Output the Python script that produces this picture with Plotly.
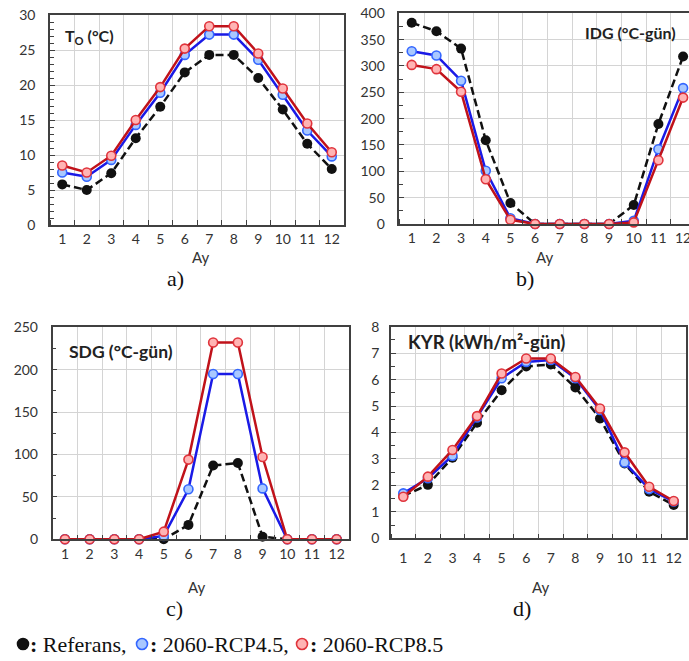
import plotly.graph_objects as go

W, H = 689, 661

months = list(range(1, 13))
month_labels = [str(m) for m in months]

# a) Outdoor temperature T_O (°C)
to_ref = [5.8, 5.0, 7.4, 12.4, 16.9, 21.8, 24.3, 24.3, 21.0, 16.5, 11.6, 8.0]
to_rcp45 = [7.5, 6.9, 9.3, 14.3, 18.9, 24.3, 27.2, 27.2, 23.6, 18.6, 13.5, 9.8]
to_rcp85 = [8.5, 7.5, 9.9, 15.0, 19.7, 25.2, 28.4, 28.4, 24.5, 19.5, 14.5, 10.4]

# b) Heating degree-days IDG (°C-gün)
idg_ref = [382, 366, 333, 159, 40, 0, 0, 0, 0, 36, 190, 318]
idg_rcp45 = [328, 320, 272, 101, 11, 0, 0, 0, 0, 6, 142, 258]
idg_rcp85 = [302, 294, 251, 85, 8, 0, 0, 0, 0, 3, 121, 240]

# c) Cooling degree-days SDG (°C-gün)
sdg_ref = [0, 0, 0, 0, 0, 17, 87, 90, 3, 0, 0, 0]
sdg_rcp45 = [0, 0, 0, 0, 4, 59, 195, 195, 60, 0, 0, 0]
sdg_rcp85 = [0, 0, 0, 0, 9, 94, 232, 232, 97, 0, 0, 0]

# d) Solar radiation KYR (kWh/m²-gün)
kyr_ref = [1.6, 2.02, 3.05, 4.37, 5.6, 6.5, 6.57, 5.7, 4.53, 2.83, 1.76, 1.26]
kyr_rcp45 = [1.7, 2.27, 3.12, 4.57, 6.05, 6.67, 6.74, 6.05, 4.85, 2.87, 1.86, 1.39]
kyr_rcp85 = [1.57, 2.33, 3.34, 4.62, 6.23, 6.8, 6.8, 6.1, 4.91, 3.25, 1.95, 1.41]

panels = [
    dict(ref=to_ref, r45=to_rcp45, r85=to_rcp85, yr=[0, 30], dt=5, mdt=1),
    dict(ref=idg_ref, r45=idg_rcp45, r85=idg_rcp85, yr=[0, 400], dt=50, mdt=25),
    dict(ref=sdg_ref, r45=sdg_rcp45, r85=sdg_rcp85, yr=[0, 250], dt=50, mdt=25),
    dict(ref=kyr_ref, r45=kyr_rcp45, r85=kyr_rcp85, yr=[0, 8], dt=1, mdt=0.5),
]

# plot-area boxes in pixels: left, right, top, bottom, x range end, label standoffs
boxes = [
    dict(l=50, r=344, t=15, b=225, xend=12.5, xs=0, ys=10),
    dict(l=399.4, r=689, t=13.3, b=224, xend=12.24, xs=0, ys=10),
    dict(l=52.6, r=349, t=327.3, b=539.3, xend=12.5, xs=1, ys=10),
    dict(l=391, r=686, t=326.7, b=538.3, xend=12.5, xs=6, ys=7),
]

BLACK = "#111111"
BLUE_LINE = "#1a1ae6"
BLUE_EDGE = "#3366ff"
BLUE_FILL = "#a9c8ff"
RED_LINE = "#c0121a"
RED_EDGE = "#e0343c"
RED_FILL = "#ffb4b4"
FRAME = "#404040"
GRID = "#d4d4d4"
TICKFONT = dict(family="Lato, Calibri, sans-serif", size=14, color="#333333")

fig = go.Figure()


def px_x(v):
    return v / W


def px_y(v):
    return 1 - v / H


for i, (p, bx) in enumerate(zip(panels, boxes)):
    n = "" if i == 0 else str(i + 1)
    xa, ya = "x" + n, "y" + n
    fig.add_trace(go.Scatter(
        x=months, y=p["ref"], xaxis=xa, yaxis=ya, mode="lines+markers",
        line=dict(color=BLACK, width=2.5, dash="8px,4px"),
        marker=dict(size=10, color=BLACK), showlegend=False, cliponaxis=False))
    fig.add_trace(go.Scatter(
        x=months, y=p["r45"], xaxis=xa, yaxis=ya, mode="lines+markers",
        line=dict(color=BLUE_LINE, width=2.5),
        marker=dict(size=9, color=BLUE_FILL, line=dict(color=BLUE_EDGE, width=1.6)),
        showlegend=False, cliponaxis=False))
    fig.add_trace(go.Scatter(
        x=months, y=p["r85"], xaxis=xa, yaxis=ya, mode="lines+markers",
        line=dict(color=RED_LINE, width=2.5),
        marker=dict(size=9, color=RED_FILL, line=dict(color=RED_EDGE, width=1.6)),
        showlegend=False, cliponaxis=False))

    fig.layout["xaxis" + n] = dict(
        domain=[px_x(bx["l"]), px_x(bx["r"])], range=[0.5, bx["xend"]],
        anchor=ya, tickvals=months, ticktext=month_labels, ticks="",
        showgrid=False, zeroline=False, showline=True, linecolor=FRAME,
        linewidth=1.6, mirror=True, tickfont=TICKFONT, automargin=False,
        ticklabelstandoff=bx["xs"], ticklabeloverflow="allow",
        minor=dict(tickvals=[m + 0.5 for m in range(0, 13)], ticks="inside",
                   ticklen=5, tickcolor=FRAME, showgrid=True,
                   gridcolor=GRID, gridwidth=1),
    )
    fig.layout["yaxis" + n] = dict(
        domain=[px_y(bx["b"]), px_y(bx["t"])], range=p["yr"], anchor=xa,
        dtick=p["dt"], tick0=0, ticks="inside", ticklen=5, tickcolor=FRAME,
        showgrid=True, gridcolor=GRID, gridwidth=1, zeroline=False,
        showline=True, linecolor=FRAME, linewidth=1.6, automargin=False,
        mirror=(i != 1), tickfont=TICKFONT, ticklabelstandoff=bx["ys"],
        ticklabeloverflow="allow",
        minor=dict(dtick=p["mdt"], ticks="inside", ticklen=4,
                   tickcolor=FRAME, showgrid=False),
    )

ann = []
titles = [
    ("<b>T<sub>O</sub> (°C)</b>", 63, 37, 16),
    ("<b>IDG (°C-gün)</b>", 583, 32, 16),
    ("<b>SDG (°C-gün)</b>", 67, 351, 17.5),
    ("<b>KYR (kWh/m²-gün)</b>", 406, 342, 18.5),
]
for txt, x, y, fs in titles:
    ann.append(dict(text=txt, x=px_x(x), y=px_y(y), xref="paper", yref="paper",
                    xanchor="left", yanchor="middle", showarrow=False,
                    font=dict(family="Lato, Calibri, sans-serif", size=fs,
                              color="#222222")))

for x, y in [(201, 257), (545, 257), (197, 587), (541, 587)]:
    ann.append(dict(text="Ay", x=px_x(x), y=px_y(y), xref="paper", yref="paper",
                    xanchor="center", yanchor="middle", showarrow=False,
                    font=dict(family="Lato, Calibri, sans-serif", size=15,
                              color="#333333")))

SERIF = "Liberation Serif, Times New Roman, serif"
for txt, x, y in [("a)", 175, 278), ("b)", 525, 278), ("c)", 174, 608), ("d)", 522, 608)]:
    ann.append(dict(text=txt, x=px_x(x), y=px_y(y), xref="paper", yref="paper",
                    xanchor="center", yanchor="middle", showarrow=False,
                    font=dict(family=SERIF, size=22, color="#111111")))

# series key below the panels
legend_y = 644
legend_items = [
    ("<b>:</b> Referans,", 28, BLACK, BLACK, 23),
    ("<b>:</b> 2060-RCP4.5,", 148, BLUE_EDGE, BLUE_FILL, 142),
    ("<b>:</b> 2060-RCP8.5", 308, RED_EDGE, RED_FILL, 302),
]
shapes = []
for txt, tx, edge, fill, cx in legend_items:
    ann.append(dict(text=txt, x=px_x(tx), y=px_y(legend_y), xref="paper",
                    yref="paper", xanchor="left", yanchor="middle",
                    showarrow=False, font=dict(family=SERIF, size=22, color="#111111")))
    r = 5.5
    shapes.append(dict(type="circle", xref="paper", yref="paper",
                       x0=px_x(cx - r), x1=px_x(cx + r),
                       y0=px_y(legend_y + r), y1=px_y(legend_y - r),
                       fillcolor=fill, line=dict(color=edge, width=1.6)))

fig.update_layout(
    width=W, height=H, margin=dict(l=0, r=0, t=0, b=0, autoexpand=False),
    paper_bgcolor="white", plot_bgcolor="white",
    annotations=ann, shapes=shapes, showlegend=False,
)

fig.write_html("out.html")
